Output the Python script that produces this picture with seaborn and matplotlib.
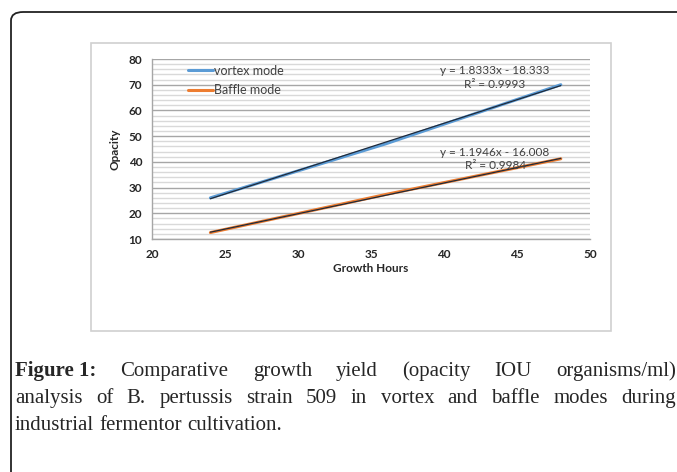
import matplotlib
matplotlib.use('Agg')
import numpy as np
import pandas as pd
import seaborn as sns
import matplotlib.pyplot as plt
from matplotlib.patches import FancyBboxPatch, Rectangle
from matplotlib.ticker import MultipleLocator

# данные
hours = [24, 36, 48]
vortex = [26, 47, 70]
baffle = [12.5, 27.3, 41.2]
series_names = ['vortex mode', 'Baffle mode']
eq_labels = ['y = 1.8333x - 18.333\nR² = 0.9993', 'y = 1.1946x - 16.008\nR² = 0.9984']
caption_lines = [
    'Comparative growth yield (opacity IOU organisms/ml)',
    'analysis of B. pertussis strain 509 in vortex and baffle modes during',
    'industrial fermentor cultivation.',
]

df = pd.DataFrame({
    'hours': hours * 2,
    'opacity': vortex + baffle,
    'mode': [series_names[0]] * len(hours) + [series_names[1]] * len(hours),
})

sns.set_theme(style='white')
plt.rcParams['font.family'] = ['Lato', 'DejaVu Sans']

W, H = 677, 472
fig = plt.figure(figsize=(W / 100, H / 100), dpi=100)


def fx(px):
    return px / W


def fy(py):
    return 1 - py / H


# внешняя рамка со скруглённым углом
fig.patches.append(FancyBboxPatch((fx(11), fy(520)), fx(700), 508 / H,
                                  boxstyle='round,pad=0,rounding_size=0.018',
                                  transform=fig.transFigure, fill=False,
                                  edgecolor='#222222', linewidth=1.3))
# рамка области диаграммы
fig.patches.append(Rectangle((fx(91), fy(331)), fx(611 - 91), (331 - 43) / H,
                             transform=fig.transFigure, fill=False,
                             edgecolor='#d0d0d0', linewidth=1.2))

ax = fig.add_axes([fx(152), fy(239), fx(590 - 152), (239 - 59) / H])
colors = ['#5b9bd5', '#ed7d31']
sns.lineplot(data=df, x='hours', y='opacity', hue='mode', palette=colors,
             linewidth=2.2, ax=ax)

# линии тренда
for ys in (vortex, baffle):
    k, b = np.polyfit(hours, ys, 1)
    xs = np.array([hours[0], hours[-1]])
    ax.plot(xs, k * xs + b, color='#1f2a3a', linewidth=0.9)

ax.set_xlim(20, 50)
ax.set_ylim(10, 80)
ax.xaxis.set_major_locator(MultipleLocator(5))
ax.yaxis.set_major_locator(MultipleLocator(10))
ax.yaxis.set_minor_locator(MultipleLocator(2))
ax.grid(which='major', axis='y', color='#a6a6a6', linewidth=1.0)
ax.grid(which='minor', axis='y', color='#d9d9d9', linewidth=1.0)
ax.set_axisbelow(True)
for s in ['top', 'right']:
    ax.spines[s].set_visible(False)
for s in ['left', 'bottom']:
    ax.spines[s].set_color('#a6a6a6')
    ax.spines[s].set_linewidth(1.0)
ax.tick_params(axis='both', which='major', length=4, width=1, color='#a6a6a6',
               labelsize=8.5, pad=3, direction='out')
ax.tick_params(axis='y', which='minor', length=0)
for lab in ax.get_xticklabels() + ax.get_yticklabels():
    lab.set_fontweight('bold')
ax.set_xlabel('Growth Hours', fontsize=8.5, fontweight='bold', labelpad=2)
ax.set_ylabel('Opacity', fontsize=8.5, fontweight='bold', labelpad=6)

ax.text(43.5, 72.7, eq_labels[0], ha='center', va='center', fontsize=8.5,
        color='#404040', linespacing=1.3)
ax.text(43.5, 41.1, eq_labels[1], ha='center', va='center', fontsize=8.5,
        color='#404040', linespacing=1.3)

leg = ax.legend(loc='upper left', bbox_to_anchor=(0.071, 0.997), frameon=False,
                fontsize=9, handlelength=2.0, handletextpad=0.1,
                labelspacing=0.6, borderaxespad=0)
for t in leg.get_texts():
    t.set_color('#404040')

# подпись к рисунку, выровненная по ширине
fig.canvas.draw()
renderer = fig.canvas.get_renderer()
serif = ['Liberation Serif', 'DejaVu Serif']
fs = 15
left, right = 15, 676
baselines = [376, 403, 430]


def text_w(t):
    return t.get_window_extent(renderer).width


for i, line in enumerate(caption_lines):
    y = fy(baselines[i])
    words = line.split(' ')
    objs = []
    if i == 0:
        head = fig.text(fx(left), y, 'Figure 1:', family=serif, fontsize=fs,
                        fontweight='bold', va='baseline')
        objs.append(head)
    for w in words:
        objs.append(fig.text(0, y, w, family=serif, fontsize=fs, va='baseline'))
    widths = [text_w(o) for o in objs]
    if i < 2:
        gap = (right - left - sum(widths)) / (len(objs) - 1)
    else:
        gap = fs * 0.25 * 100 / 72
    x = left
    for o, w in zip(objs, widths):
        o.set_x(fx(x))
        x += w + gap

fig.savefig('out.png', dpi=100)
